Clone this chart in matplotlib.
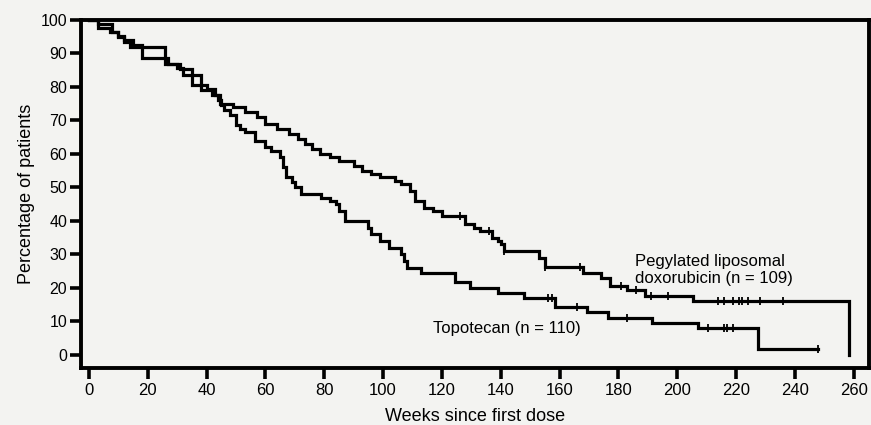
import numpy as np
import matplotlib
matplotlib.use("Agg")
import matplotlib.pyplot as plt

# ---- data (Kaplan-Meier step points: week at which survival drops, value after drop)
pld_weeks = [0, 3, 8, 10, 12, 14, 26, 30, 32, 38, 42, 44.5, 49, 53, 57, 60, 64, 68, 71,
             73.5, 76, 78.6, 82, 85, 90, 93, 96, 99, 104, 106, 109, 111, 114, 117, 120,
             128, 131, 133, 137, 139, 140, 141, 153, 155, 168, 174, 177, 183, 189, 205.5, 258.5]
pld_pct = [100, 98.8, 96.5, 95, 93.5, 92, 87, 85.7, 83.6, 79, 77.6, 75, 74, 72.5, 71, 69,
           67.5, 66, 64.5, 63, 61.5, 60, 59, 58, 56.5, 55, 54, 53, 52, 51, 49, 46, 44, 43,
           41.5, 39, 38, 37, 35, 34, 33, 31, 29, 26.3, 24.5, 23, 20.6, 19.4, 17.6, 16.1, 0]
pld_end = 258.5
pld_censor = [126, 136, 141, 155, 167, 181, 186, 191, 197, 214, 216, 219, 221, 222, 224, 228, 236]

topo_weeks = [0, 3, 7, 10, 12, 15, 18, 27, 31, 35, 40, 43, 44, 45, 46, 48, 50, 51.5, 53,
              56.5, 60, 62, 65, 66, 67, 69, 70, 72, 79, 82, 84, 85, 87, 95, 96, 99, 102,
              106, 107, 108, 113, 124.5, 129.6, 139, 148, 158.5, 169.5, 176.5, 191.5, 207, 227.5]
topo_pct = [100, 97.6, 96.5, 95.2, 94, 92.5, 88.6, 87, 85.5, 80.6, 79.5, 77.6, 76, 74.5,
            73, 71.6, 68.7, 67.5, 66.6, 64, 62, 61, 59, 56, 53, 51.5, 50, 48, 47, 46, 45,
            43, 40, 38, 36, 34, 32, 30, 28, 26, 24.5, 21.8, 20, 18.5, 17, 14.4, 12.9, 11,
            9.5, 8, 1.8]
topo_end = 248
topo_censor = [156, 157.5, 166, 183, 210.5, 216, 217, 219, 248]

x_ticks = list(range(0, 261, 20))
y_ticks = list(range(0, 101, 10))

pld_label = "Pegylated liposomal\ndoxorubicin (n = 109)"
topo_label = "Topotecan (n = 110)"

# ---- figure
plt.rcParams['font.family'] = ['Liberation Sans', 'DejaVu Sans']
bg = "#f3f3f1"
fig = plt.figure(figsize=(8.71, 4.25), dpi=100, facecolor=bg)
ax = fig.add_axes([0.093, 0.134, 0.905, 0.819], facecolor=bg)


def draw_curve(weeks, pct, end, censor):
    w = np.array(weeks + [end], dtype=float)
    p = np.array(pct + [pct[-1]], dtype=float)
    ax.step(w, p, where='post', color='black', lw=2.3, solid_joinstyle='miter')
    c = np.array(censor, dtype=float)
    idx = np.searchsorted(np.array(weeks, dtype=float), c, side='right') - 1
    cy = np.array(pct, dtype=float)[idx]
    ax.plot(c, cy, linestyle='none', marker='|', markersize=6, mew=1.3, color='black')


draw_curve(pld_weeks, pld_pct, pld_end, pld_censor)
draw_curve(topo_weeks, topo_pct, topo_end, topo_censor)

ax.set_xlim(-2.7, 265.3)
ax.set_ylim(-3.9, 100)
ax.set_xticks(x_ticks)
ax.set_yticks(y_ticks)
ax.tick_params(axis='both', direction='out', length=8, width=2.6, color='black')
ax.tick_params(axis='x', labelsize=12, pad=3)
ax.tick_params(axis='y', labelsize=11.5, pad=2)
for s in ax.spines.values():
    s.set_linewidth(2.8)
    s.set_color('black')

ax.set_ylabel("Percentage of patients", fontsize=13, labelpad=4)
ax.set_xlabel("Weeks since first dose", fontsize=13, labelpad=7)

ax.text(185.5, 30, pld_label, fontsize=12, va='top', ha='left', linespacing=1.1)
ax.text(117, 8.0, topo_label, fontsize=12, va='center', ha='left')

fig.savefig("out.png", dpi=100, facecolor=bg)
